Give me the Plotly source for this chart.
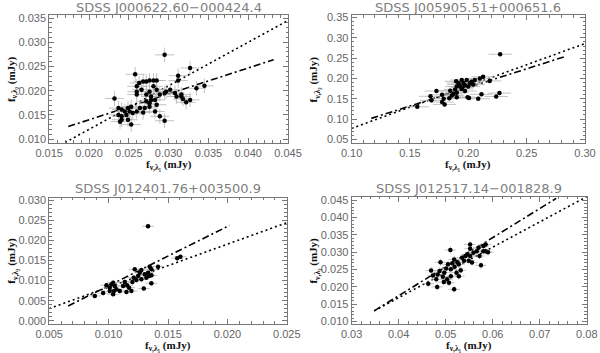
import plotly.graph_objects as go

# panel titles
titles = [
    "SDSS J000622.60−000424.4",
    "SDSS J005905.51+000651.6",
    "SDSS J012401.76+003500.9",
    "SDSS J012517.14−001828.9",
]

# panel 1 data
x1 = [0.0232, 0.0295, 0.0258, 0.0327, 0.0312, 0.0312, 0.0335, 0.0253, 0.0295, 0.0322,
      0.0263, 0.0260, 0.0268, 0.0272, 0.0276, 0.0281, 0.0285, 0.0260, 0.0266, 0.0260,
      0.0281, 0.0285, 0.0276, 0.0272, 0.0278, 0.0283, 0.0289, 0.0295, 0.0297, 0.0302,
      0.0308, 0.0310, 0.0316, 0.0318, 0.0327, 0.0237, 0.0241, 0.0245, 0.0249, 0.0253,
      0.0251, 0.0237, 0.0241, 0.0247, 0.0255, 0.0260, 0.0264, 0.0270, 0.0276, 0.0241,
      0.0239, 0.0249, 0.0268, 0.0283, 0.0289, 0.0276, 0.0272, 0.0278, 0.0285, 0.0345,
      0.0316]
y1 = [0.0184, 0.0274, 0.0234, 0.0247, 0.0231, 0.0221, 0.0205, 0.0130, 0.0138, 0.0176,
      0.0216, 0.0209, 0.0219, 0.0219, 0.0221, 0.0221, 0.0221, 0.0198, 0.0202, 0.0192,
      0.0209, 0.0202, 0.0198, 0.0192, 0.0188, 0.0181, 0.0192, 0.0195, 0.0198, 0.0202,
      0.0195, 0.0188, 0.0192, 0.0183, 0.0181, 0.0164, 0.0161, 0.0157, 0.0164, 0.0167,
      0.0157, 0.0150, 0.0147, 0.0150, 0.0154, 0.0157, 0.0164, 0.0164, 0.0167, 0.0140,
      0.0136, 0.0140, 0.0155, 0.0157, 0.0147, 0.0174, 0.0178, 0.0181, 0.0171, 0.0210,
      0.0188]
ex1, ey1 = 0.0012, 0.0015
dot1_x, dot1_y = [0.0170, 0.0450], [0.0093, 0.0345]
dd1_x, dd1_y = [0.0174, 0.0432], [0.0126, 0.0264]

# panel 2 data
x2 = [0.2273, 0.2267, 0.2239, 0.2113, 0.2085, 0.1994, 0.2006, 0.1727, 0.1563, 0.1676,
      0.1684, 0.1775, 0.1789, 0.1775, 0.1797, 0.1845, 0.1859, 0.1837, 0.1887, 0.1901,
      0.1915, 0.1896, 0.1944, 0.1958, 0.1972, 0.1930, 0.1944, 0.1986, 0.2000, 0.2014,
      0.2028, 0.2042, 0.2056, 0.2099, 0.2127, 0.2183, 0.1873, 0.1901, 0.1972, 0.1901,
      0.1920, 0.1950]
y2 = [0.2598, 0.1640, 0.1555, 0.1610, 0.1500, 0.1540, 0.1520, 0.1690, 0.1300, 0.1560,
      0.1460, 0.1600, 0.1500, 0.1420, 0.1360, 0.1700, 0.1580, 0.1510, 0.1730, 0.1800,
      0.1890, 0.1930, 0.1960, 0.1890, 0.1830, 0.1800, 0.1740, 0.1960, 0.1800, 0.1880,
      0.1920, 0.1850, 0.1960, 0.2000, 0.2040, 0.1940, 0.1620, 0.1650, 0.1690, 0.1540,
      0.1850, 0.1780]
ex2, ey2 = 0.010, 0.005
dot2_x, dot2_y = [0.100, 0.300], [0.0770, 0.2861]
dd2_x, dd2_y = [0.1169, 0.2839], [0.1016, 0.2549]

# panel 3 data
x3 = [0.01332, 0.01578, 0.01604, 0.00884, 0.00954, 0.00982, 0.01010, 0.01024, 0.01038, 0.01052,
      0.01010, 0.01046, 0.01066, 0.01094, 0.01038, 0.01122, 0.01136, 0.01156, 0.01172, 0.01150,
      0.01192, 0.01200, 0.01211, 0.01234, 0.01248, 0.01262, 0.01220, 0.01276, 0.01304, 0.01318,
      0.01332, 0.01346, 0.01360, 0.01340, 0.01296, 0.01360, 0.01416, 0.01276, 0.01360]
y3 = [0.02350, 0.01554, 0.01595, 0.00620, 0.00690, 0.00884, 0.00826, 0.00909, 0.00950, 0.00868,
      0.00740, 0.00744, 0.00785, 0.00744, 0.00661, 0.00868, 0.00967, 0.00884, 0.00826, 0.00719,
      0.00744, 0.00967, 0.01074, 0.01017, 0.01116, 0.01198, 0.01281, 0.01264, 0.01157, 0.01074,
      0.01198, 0.01347, 0.01281, 0.01116, 0.00802, 0.00934, 0.01347, 0.01033, 0.01132]
ex3, ey3 = 0.0005, 0.0006
dot3_x, dot3_y = [0.0050, 0.0250], [0.00306, 0.02438]
dd3_x, dd3_y = [0.0066, 0.02018], [0.00372, 0.02372]

# panel 4 data
x4 = [0.0463, 0.0469, 0.0473, 0.0480, 0.0483, 0.0487, 0.0489, 0.0482, 0.0494, 0.0496,
      0.0497, 0.0501, 0.0505, 0.0503, 0.0507, 0.0511, 0.0514, 0.0518, 0.0519, 0.0523,
      0.0525, 0.0528, 0.0532, 0.0535, 0.0539, 0.0542, 0.0546, 0.0511, 0.0528, 0.0518,
      0.0510, 0.0552, 0.0570, 0.0580, 0.0580, 0.0590, 0.0585, 0.0585, 0.0575, 0.0552,
      0.0552, 0.0559, 0.0566, 0.0572, 0.0549, 0.0556]
y4 = [0.0209, 0.0247, 0.0233, 0.0222, 0.0236, 0.0246, 0.0271, 0.0200, 0.0229, 0.0214,
      0.0241, 0.0253, 0.0265, 0.0222, 0.0212, 0.0251, 0.0268, 0.0279, 0.0258, 0.0241,
      0.0271, 0.0265, 0.0248, 0.0284, 0.0275, 0.0289, 0.0294, 0.0231, 0.0231, 0.0193,
      0.0306, 0.0322, 0.0313, 0.0318, 0.0303, 0.0300, 0.0303, 0.0322, 0.0262, 0.0310,
      0.0289, 0.0298, 0.0303, 0.0289, 0.0275, 0.0270]
ex4, ey4 = 0.0012, 0.0010
dot4_x, dot4_y = [0.0348, 0.0800], [0.0131, 0.0460]
dd4_x, dd4_y = [0.0348, 0.0735], [0.0131, 0.0455]

panels = [
    dict(x=x1, y=y1, ex=ex1, ey=ey1, dx=dot1_x, dy=dot1_y, ddx=dd1_x, ddy=dd1_y,
         xr=[0.015, 0.045], yr=[0.0092, 0.0356], xt=0.005, yt=0.005, xf=".3f", yf=".3f",
         xd=[0.082, 0.480], yd=[0.595, 0.957], title_y=7.5, xlab_y=165),
    dict(x=x2, y=y2, ex=ex2, ey=ey2, dx=dot2_x, dy=dot2_y, ddx=dd2_x, ddy=dd2_y,
         xr=[0.10, 0.30], yr=[0.041, 0.356], xt=0.05, yt=0.05, xf=".2f", yf=".2f",
         xd=[0.586, 0.975], yd=[0.595, 0.957], title_y=7.5, xlab_y=165),
    dict(x=x3, y=y3, ex=ex3, ey=ey3, dx=dot3_x, dy=dot3_y, ddx=dd3_x, ddy=dd3_y,
         xr=[0.005, 0.025], yr=[-0.0007, 0.0306], xt=0.005, yt=0.005, xf=".3f", yf=".3f",
         xd=[0.082, 0.478], yd=[0.083, 0.440], title_y=188.5, xlab_y=346),
    dict(x=x4, y=y4, ex=ex4, ey=ey4, dx=dot4_x, dy=dot4_y, ddx=dd4_x, ddy=dd4_y,
         xr=[0.03, 0.08], yr=[0.0094, 0.046], xt=0.01, yt=0.005, xf=".2f", yf=".3f",
         xd=[0.586, 0.978], yd=[0.083, 0.443], title_y=188, xlab_y=346),
]

tick_font = dict(family="Liberation Sans", size=11, color="#666666")
label_font = dict(family="Liberation Serif", size=11, color="#111111")
H = 353

fig = go.Figure()
layout = {}

for i, p in enumerate(panels):
    n = "" if i == 0 else str(i + 1)
    xa, ya = "x" + n, "y" + n

    # dotted fit line
    fig.add_trace(go.Scatter(x=p["dx"], y=p["dy"], mode="lines", xaxis=xa, yaxis=ya,
                             line=dict(color="black", width=1.6, dash="2px,3px"),
                             showlegend=False))
    # dash-dot fit line
    fig.add_trace(go.Scatter(x=p["ddx"], y=p["ddy"], mode="lines", xaxis=xa, yaxis=ya,
                             line=dict(color="black", width=1.6, dash="7px,3px,2px,3px"),
                             showlegend=False))
    # data points with error bars
    fig.add_trace(go.Scatter(
        x=p["x"], y=p["y"], mode="markers", xaxis=xa, yaxis=ya,
        marker=dict(color="black", size=4.5),
        error_x=dict(type="constant", value=p["ex"], color="#b4b4b4", thickness=0.8, width=0),
        error_y=dict(type="constant", value=p["ey"], color="#b4b4b4", thickness=0.8, width=0),
        showlegend=False,
    ))

    axis_common = dict(
        showgrid=False, zeroline=False, showline=True, linecolor="#777777", linewidth=1,
        mirror="allticks", ticks="inside", ticklen=5, tickcolor="#777777",
        tickfont=tick_font, automargin=False,
        minor=dict(ticks="inside", ticklen=2.5, tickcolor="#777777", nticks=6),
    )
    layout["xaxis" + n] = dict(
        axis_common, domain=p["xd"], range=p["xr"], anchor=ya,
        tick0=p["xr"][0], dtick=p["xt"], tickformat=p["xf"],
    )
    layout["yaxis" + n] = dict(
        axis_common, domain=p["yd"], range=p["yr"], anchor=xa,
        tick0=0, dtick=p["yt"], tickformat=p["yf"],
    )

    # panel title
    fig.add_annotation(
        text=titles[i], xref="paper", yref="paper",
        x=(p["xd"][0] + p["xd"][1]) / 2, y=1 - p["title_y"] / H,
        xanchor="center", yanchor="middle", showarrow=False,
        font=dict(family="DejaVu Sans", size=13, color="#808080"),
    )
    # x axis title
    fig.add_annotation(
        text="<b>f<sub>ν,λ₁</sub> (mJy)</b>", xref="paper", yref="paper",
        x=(p["xd"][0] + p["xd"][1]) / 2, y=1 - p["xlab_y"] / H,
        xanchor="center", yanchor="middle", showarrow=False, font=label_font,
    )
    # y axis title
    fig.add_annotation(
        text="<b>f<sub>ν,λ₂</sub> (mJy)</b>", xref="paper", yref="paper",
        x=p["xd"][0] - 0.062, y=(p["yd"][0] + p["yd"][1]) / 2,
        xanchor="center", yanchor="middle", textangle=-90, showarrow=False, font=label_font,
    )

fig.update_layout(
    width=600, height=353,
    margin=dict(l=0, r=0, t=0, b=0),
    paper_bgcolor="white", plot_bgcolor="white",
    **layout,
)

# drop the default page margin so the figure sits at the window corner
fig.write_html("out.html", config={"displayModeBar": False},
               post_script="document.body.style.margin='0';")
